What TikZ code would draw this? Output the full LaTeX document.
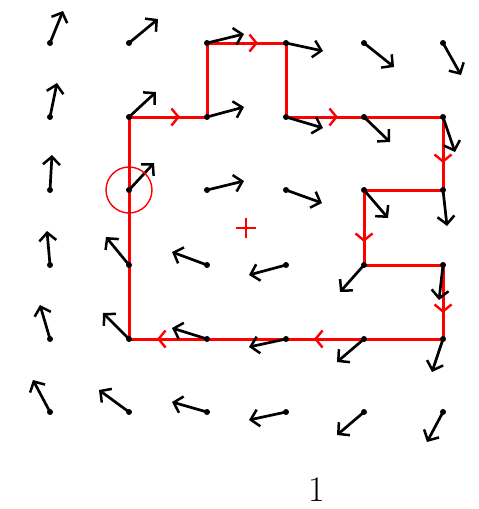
\documentclass[tikz,border=0pt]{standalone}
\usetikzlibrary{arrows.meta,calc}
\begin{document}
\begin{tikzpicture}[x=1pt,y=-1pt,
  vec/.style={line width=2.7pt,black,line cap=round,-{Straight Barb[length=8pt,width=17pt,line width=2.5pt]}},
  pathline/.style={line width=3pt,red,line join=miter},
  redtip/.style={line width=2.6pt,red,-{Straight Barb[length=7pt,width=17pt,line width=2.4pt]}},
  basedot/.style={fill=black,circle,inner sep=0pt,minimum size=6pt}]
\useasboundingbox (0,0) rectangle (479,509);
% grid points
\foreach \c/\x in {0/50,1/129,2/207,3/286,4/364,5/443}{
  \foreach \r/\y in {0/43,1/117,2/190,3/265,4/339,5/412}{
    \coordinate (p\c\r) at (\x,\y);
  }
}
% red closed path
\draw[pathline] (p11) -- (p21) -- (p20) -- (p30) -- (p31) -- (p51) -- (p52) -- (p42) -- (p43) -- (p53) -- (p54) -- (p14) -- cycle;
% red direction marks
\coordinate (m1) at (180,117);
\coordinate (m2) at (258,43);
\coordinate (m3) at (338,117);
\coordinate (m4) at (443,163);
\coordinate (m5) at (364,242);
\coordinate (m6) at (443,313);
\coordinate (m7) at (314,339);
\coordinate (m8) at (157,339);
\draw[redtip] (p11) -- (m1);
\draw[redtip] (p20) -- (m2);
\draw[redtip] (p31) -- (m3);
\draw[redtip] (p51) -- (m4);
\draw[redtip] (p42) -- (m5);
\draw[redtip] (p53) -- (m6);
\draw[redtip] (p44) -- (m7);
\draw[redtip] (p24) -- (m8);
% vector field
\foreach \c/\r/\tx/\ty in {
 0/0/63/11, 1/0/158/19, 2/0/244/34, 3/0/323/51, 4/0/394/67, 5/0/461/75,
 0/1/57/83, 1/1/156/92, 2/1/244/107, 3/1/323/128, 4/1/390/142, 5/1/455/152,
 0/2/52/155, 1/2/154/163, 2/2/244/181, 3/2/322/203, 4/2/388/218, 5/2/447/226,
 0/3/47/231, 1/3/106/237, 2/3/172/252, 3/3/249/275, 4/3/340/292, 5/3/439/300,
 0/4/40/305, 1/4/103/313, 2/4/172/328, 3/4/249/347, 4/4/337/362, 5/4/432/372,
 0/5/33/380, 1/5/99/390, 2/5/172/402, 3/5/249/420, 4/5/337/435, 5/5/427/442}{
  \coordinate (t\c\r) at (\tx,\ty);
  \node[basedot] (d\c\r) at (p\c\r) {};
  \draw[vec] (p\c\r) -- (t\c\r);
}
% circle and centre mark
\draw[red,line width=1.4pt] (p12) circle (23);
\coordinate (ctr) at (246,228);
\draw[red,line width=2.6pt] ($(ctr)+(-10,0)$) -- ($(ctr)+(10,0)$);
\draw[red,line width=2.6pt] ($(ctr)+(0,-10)$) -- ($(ctr)+(0,10)$);
\node[font=\fontsize{36}{38}\selectfont,inner sep=0pt] (lab) at (317,490) {1};
\end{tikzpicture}
\end{document}
